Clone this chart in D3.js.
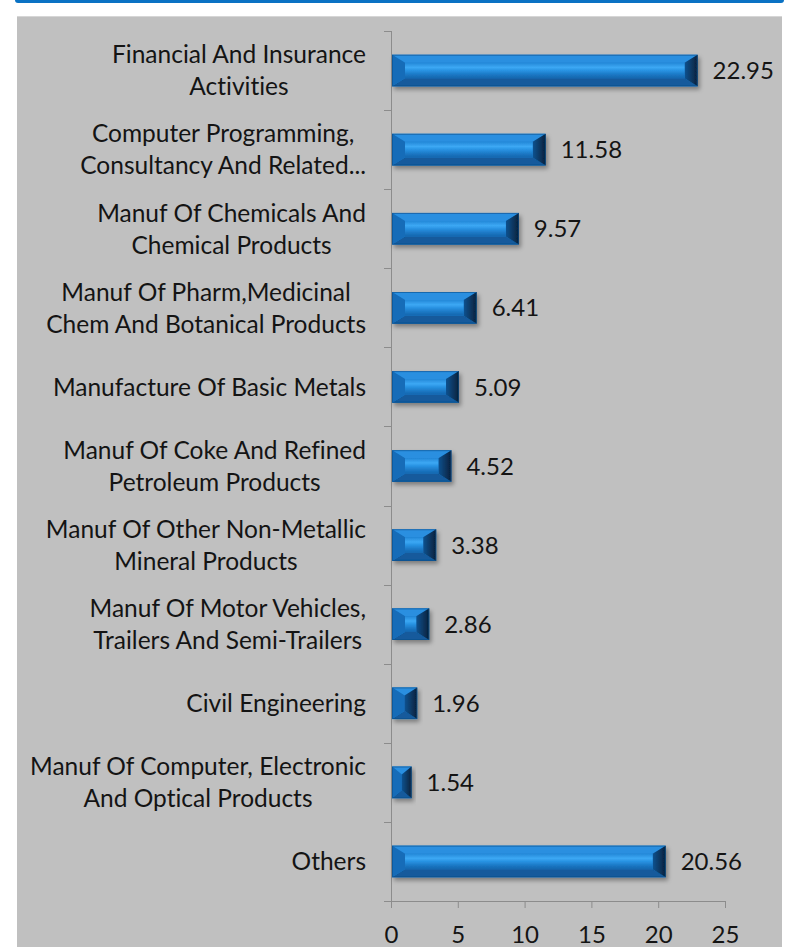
<!DOCTYPE html>
<html>
<head>
<meta charset="utf-8">
<script src="https://cdn.jsdelivr.net/npm/d3@7"></script>
<style>
  html, body { margin: 0; padding: 0; background: #ffffff; }
  svg { display: block; }
  text { font-family: Lato, "Open Sans", sans-serif; fill: #141414; font-variant-ligatures: none; }
</style>
</head>
<body>
<svg id="chart" width="796" height="947"></svg>
<script>
// Share of FDI equity inflows by sector (%)
const categories = [
  "Financial And Insurance Activities",
  "Computer Programming, Consultancy And Related...",
  "Manuf Of Chemicals And Chemical Products",
  "Manuf Of Pharm,Medicinal Chem And Botanical Products",
  "Manufacture Of Basic Metals",
  "Manuf Of Coke And Refined Petroleum Products",
  "Manuf Of Other Non-Metallic Mineral Products",
  "Manuf Of Motor Vehicles, Trailers And Semi-Trailers",
  "Civil Engineering",
  "Manuf Of Computer, Electronic And Optical Products",
  "Others"
];
const labelLines = [
  ["Financial And Insurance", "Activities"],
  ["Computer Programming,", "Consultancy And Related..."],
  ["Manuf Of Chemicals And", "Chemical Products"],
  ["Manuf Of Pharm,Medicinal", "Chem And Botanical Products"],
  ["Manufacture Of Basic Metals"],
  ["Manuf Of Coke And Refined", "Petroleum Products"],
  ["Manuf Of Other Non-Metallic", "Mineral Products"],
  ["Manuf Of Motor Vehicles,", "Trailers And Semi-Trailers"],
  ["Civil Engineering"],
  ["Manuf Of Computer, Electronic", "And Optical Products"],
  ["Others"]
];
const values = [22.95, 11.58, 9.57, 6.41, 5.09, 4.52, 3.38, 2.86, 1.96, 1.54, 20.56];
const xTicks = [0, 5, 10, 15, 20, 25];

const svg = d3.select("#chart");

// page frame: blue rule on top, grey plot panel
svg.append("rect").attr("x", 15).attr("y", -3).attr("width", 769).attr("height", 6)
  .attr("rx", 3).attr("fill", "#0a72c4");
svg.append("rect").attr("x", 17).attr("y", 16).attr("width", 765).attr("height", 940)
  .attr("fill", "#c0c0c0");
svg.append("line").attr("x1", 17).attr("x2", 782).attr("y1", 16.5).attr("y2", 16.5)
  .attr("stroke", "#d6d6d6");

const x = d3.scaleLinear().domain([0, 25]).range([391, 725]);
const y = d3.scaleBand().domain(categories).range([31, 901])
  .paddingInner(0.6).paddingOuter(0.3);

const defs = svg.append("defs");
const face = defs.append("linearGradient").attr("id", "face")
  .attr("x1", 0).attr("y1", 0).attr("x2", 0).attr("y2", 1);
[[0, "#2488d8"], [0.3, "#3ca8f4"], [0.5, "#2892e2"], [0.8, "#1a74c0"], [1, "#1566ad"]]
  .forEach(([o, c]) => face.append("stop").attr("offset", o).attr("stop-color", c));
const rightG = defs.append("linearGradient").attr("id", "rightEnd")
  .attr("x1", 0).attr("y1", 0).attr("x2", 1).attr("y2", 0);
[[0, "#0f5290"], [1, "#05203a"]]
  .forEach(([o, c]) => rightG.append("stop").attr("offset", o).attr("stop-color", c));
const shadow = defs.append("filter").attr("id", "shadow")
  .attr("x", "-10%").attr("y", "-30%").attr("width", "130%").attr("height", "180%");
shadow.append("feDropShadow").attr("dx", 2).attr("dy", 3).attr("stdDeviation", 2)
  .attr("flood-color", "#000").attr("flood-opacity", 0.35);

// axes
const axisColor = "#8c8c8c";
const gx = svg.append("g").attr("transform", "translate(0,901)")
  .call(d3.axisBottom(x).tickValues(xTicks).tickSize(7).tickPadding(18).tickFormat(d3.format("d")));
gx.select(".domain").remove();
gx.append("line").attr("x1", 384).attr("x2", x(25)).attr("y1", 0.5).attr("y2", 0.5)
  .attr("stroke", axisColor);
gx.selectAll(".tick line").attr("stroke", axisColor);
gx.selectAll(".tick text").attr("font-size", 24).attr("font-family", "Lato, sans-serif")
  .attr("fill", "#141414");

const step = y.step();
const boundaries = d3.range(categories.length + 1).map(i => y.range()[0] + i * step);
const gy = svg.append("g");
gy.append("line").attr("x1", 391.5).attr("x2", 391.5).attr("y1", 31).attr("y2", 901)
  .attr("stroke", axisColor);
gy.selectAll("line.t").data(boundaries).join("line").attr("class", "t")
  .attr("x1", 384).attr("x2", 391).attr("y1", d => Math.round(d) + 0.5).attr("y2", d => Math.round(d) + 0.5)
  .attr("stroke", axisColor);

// bevelled bars
const bars = svg.append("g").selectAll("g").data(categories).join("g")
  .attr("filter", "url(#shadow)");
bars.each(function(c, i) {
  const g = d3.select(this);
  const x0 = x(0) + 1, x1 = x(values[i]);
  const y0 = y(c), y1 = y(c) + y.bandwidth();
  const w = x1 - x0, h = y1 - y0;
  const bx = Math.min(13, w / 2), by = Math.min(8, h / 2);
  const pts = a => a.map(p => p.join(",")).join(" ");
  g.append("rect").attr("x", x0).attr("y", y0).attr("width", w).attr("height", h).attr("fill", "#1d7fd0");
  // top bevel
  g.append("polygon").attr("points", pts([[x0, y0], [x1, y0], [x1 - bx, y0 + by], [x0 + bx, y0 + by]]))
    .attr("fill", "#2a8fe0");
  // bottom bevel
  g.append("polygon").attr("points", pts([[x0, y1], [x1, y1], [x1 - bx, y1 - by], [x0 + bx, y1 - by]]))
    .attr("fill", "#125a9c");
  // left bevel
  g.append("polygon").attr("points", pts([[x0, y0], [x0 + bx, y0 + by], [x0 + bx, y1 - by], [x0, y1]]))
    .attr("fill", "#176cb8");
  // right bevel
  g.append("polygon").attr("points", pts([[x1, y0], [x1 - bx, y0 + by], [x1 - bx, y1 - by], [x1, y1]]))
    .attr("fill", "url(#rightEnd)");
  // face
  if (w - 2 * bx > 0) {
    g.append("rect").attr("x", x0 + bx).attr("y", y0 + by).attr("width", w - 2 * bx).attr("height", h - 2 * by)
      .attr("fill", "url(#face)");
  }
  g.append("rect").attr("x", x0 + 0.5).attr("y", y0 + 0.5).attr("width", w - 1).attr("height", h - 1)
    .attr("fill", "none").attr("stroke", "#0e4f8a").attr("stroke-width", 1).attr("stroke-opacity", 0.6);
});

// value labels
svg.append("g").selectAll("text").data(categories).join("text")
  .attr("x", (c, i) => x(values[i]) + 15)
  .attr("y", c => y(c) + y.bandwidth() / 2)
  .attr("dy", "0.36em")
  .attr("font-size", 24)
  .text((c, i) => values[i].toFixed(2));

// category labels: lines centred on each other, block right-aligned to the axis
const fontSize = 24.5;
const lineH = 32;
const rightEdge = 366;
const lab = svg.append("g");
categories.forEach((c, i) => {
  const lines = labelLines[i];
  const tmp = lines.map(t => lab.append("text").attr("font-size", fontSize).text(t));
  const maxW = d3.max(tmp, t => t.node().getComputedTextLength());
  const cx = rightEdge - maxW / 2;
  const cy = y(c) + y.bandwidth() / 2;
  tmp.forEach((t, j) => {
    t.attr("x", cx).attr("text-anchor", "middle")
      .attr("y", cy + (j - (lines.length - 1) / 2) * lineH)
      .attr("dy", "0.36em");
  });
});
</script>
</body>
</html>
